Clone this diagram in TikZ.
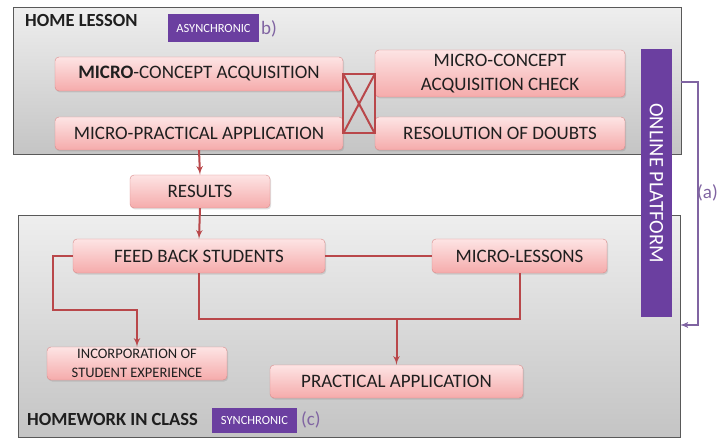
\documentclass[tikz,border=0pt]{standalone}
\usepackage{fontspec}
\setmainfont{Carlito}
\usetikzlibrary{arrows,shadows,calc}
\definecolor{boxtop}{HTML}{FDE4E4}
\definecolor{boxbot}{HTML}{F5ABAB}
\definecolor{boxline}{HTML}{D98A8A}
\definecolor{linkred}{HTML}{B9474A}
\definecolor{purp}{HTML}{6B3FA0}
\definecolor{purptext}{HTML}{8064A2}
\definecolor{frametop}{HTML}{EEEEEE}
\definecolor{framebot}{HTML}{C4C4C4}
\definecolor{inktext}{HTML}{1F1F1F}

\tikzset{
  stage/.style={draw=boxline, top color=boxtop, bottom color=boxbot,
    rounded corners=4pt, align=center, inner sep=0pt, text=inktext,
    font=\fontsize{19}{24}\selectfont,
    drop shadow={shadow xshift=1.2pt, shadow yshift=-1.5pt, opacity=0.25}},
  frame/.style={draw=black!65, line width=1pt, top color=frametop, bottom color=framebot},
  link/.style={draw=linkred, line width=2pt},
  tag/.style={fill=purp, text=white, inner sep=0pt, font=\fontsize{12.5}{14}\selectfont},
  caption/.style={anchor=west, inner sep=0pt, font=\fontsize{19}{22}\selectfont},
}

\begin{document}
\begin{tikzpicture}[x=1pt, y=-1pt]
    \useasboundingbox (0,0) rectangle (722,438);
    % frames
    \draw[frame] (13,8) rectangle (681,155);
    \draw[frame] (18,216) rectangle (680,437);
    \node[caption, font=\fontsize{18.5}{20}\selectfont\bfseries, text=inktext] (homelesson) at (25,21) {HOME LESSON};
    \node[tag, minimum width=91, minimum height=28] (async) at (213.5,28) {ASYNCHRONIC};
    \node[caption, text=purptext] (btag) at (261,29) {b)};
    \node[caption, font=\fontsize{18.5}{20}\selectfont\bfseries, text=inktext] (homework) at (27,419) {HOMEWORK IN CLASS};
    \node[tag, minimum width=85, minimum height=25] (sync) at (254.5,420.5) {SYNCHRONIC};
    \node[caption, text=purptext] (ctag) at (301,420) {(c)};
    % home lesson
    \node[stage, minimum width=288, minimum height=34] (mca) at (199,74) {\textbf{MICRO}-CONCEPT ACQUISITION};
    \node[stage, minimum width=288, minimum height=33] (mpa) at (199,133.5) {MICRO-PRACTICAL APPLICATION};
    \node[stage, minimum width=250, minimum height=47] (mcac) at (500,73.5) {MICRO-CONCEPT\\ACQUISITION CHECK};
    \node[stage, minimum width=250, minimum height=33] (rod) at (500,133.5) {RESOLUTION OF DOUBTS};
    \draw[link] (mca.east) -- (mcac.west |- mca.east) -- (rod.west |- mpa.east) -- (mpa.east) -- cycle;
    \draw[link] (mca.east) -- (rod.west |- mpa.east);
    \draw[link] (mpa.east) -- (mcac.west |- mca.east);
    % results
    \node[stage, minimum width=140, minimum height=33] (res) at (200,191.5) {RESULTS};
    % homework in class
    \node[stage, minimum width=252, minimum height=34] (fbs) at (199,256) {FEED BACK STUDENTS};
    \node[stage, minimum width=175, minimum height=34] (ml) at (519.5,256) {MICRO-LESSONS};
    \node[stage, minimum width=180, minimum height=33, font=\fontsize{14.5}{19}\selectfont] (inc) at (137,363.5) {INCORPORATION OF\\STUDENT EXPERIENCE};
    \node[stage, minimum width=253, minimum height=33] (pa) at (396.5,381.5) {PRACTICAL APPLICATION};
    \draw[link,-latex'] (mpa.south) -- (res.north);
    \draw[link,-latex'] (res.south) -- (fbs.north);
    \draw[link] (fbs.east) -- (ml.west);
    \path (fbs.south) ++(0,46) coordinate (fbsdown);
    \draw[link] (fbs.south) -- (fbsdown) -| (ml.south);
    \draw[link,-latex'] (fbsdown -| pa.north) -- (pa.north);
    \draw[link,-latex'] (fbs.west) -| (53,310) -| (inc.north);
    % platform
    \node[fill=purp, text=white, minimum width=268, minimum height=31,
      inner sep=0pt, rotate=-90, font=\fontsize{20.5}{22}\selectfont] (op) at (656.5,183) {ONLINE PLATFORM};
    \coordinate (hledge) at (681,82);
    \coordinate (hcedge) at (680,325);
    \draw[purptext, line width=1.8pt, -latex'] (hledge) -- ++(17,0) |- (hcedge);
    \node[caption, text=purptext] (atag) at (697,193) {(a)};
  \end{tikzpicture}
\end{document}
